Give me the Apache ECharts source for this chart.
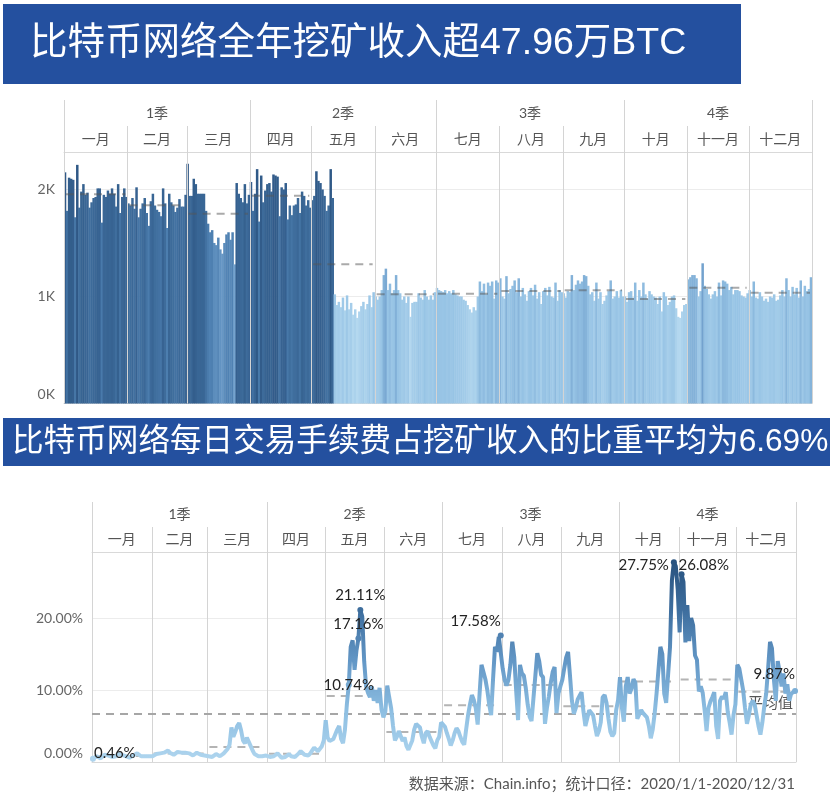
<!DOCTYPE html>
<html><head><meta charset="utf-8">
<script src="https://cdn.jsdelivr.net/npm/echarts@6/dist/echarts.min.js"></script>
<style>html,body{margin:0;padding:0;background:#fff}#c{width:832px;height:812px}</style>
</head><body><div id="c"></div>
<script>
// ---------------- data ----------------
const title1 = '比特币网络全年挖矿收入超47.96万BTC';
const title2 = '比特币网络每日交易手续费占挖矿收入的比重平均为6.69%';
const sourceText = '数据来源：Chain.info；统计口径：2020/1/1-2020/12/31';
const quarterNames = ['1季', '2季', '3季', '4季'];
const monthNames = ['一月', '二月', '三月', '四月', '五月', '六月', '七月', '八月', '九月', '十月', '十一月', '十二月'];
const monthDays = [31, 29, 31, 30, 31, 30, 31, 31, 30, 31, 30, 31];
const btcTickLabels = { 0: '0K', 1000: '1K', 2000: '2K' };
const feeTickLabels = { 0: '0.00%', 10: '10.00%', 20: '20.00%' };
const overallFeeAvg = 6.69;
const avgLabel = '平均值';

// daily mining revenue (BTC), one list per month
const btcJan = [2160, 1800, 2110, 2100, 2090, 1740, 2230, 1830, 1980, 2050, 1950, 1970, 1830, 1880, 1920, 1930, 2010, 2010, 1690, 1950, 1930, 1990, 1960, 2010, 1960, 1840, 2050, 1780, 1930, 2010, 1930];
const btcFeb = [1870, 1850, 1920, 1820, 2020, 1740, 1820, 1870, 1920, 1780, 1660, 1890, 1960, 1850, 1810, 1790, 1750, 2010, 1870, 1640, 1960, 1880, 1850, 1790, 1830, 1910, 1840, 1840, 1950];
const btcMar = [2240, 1940, 1940, 2100, 2050, 1960, 1960, 1960, 1960, 1800, 1680, 1600, 1620, 1500, 1480, 1550, 1440, 1400, 1500, 1580, 1600, 1530, 1600, 1300, 2060, 1960, 1920, 1880, 2050, 1870, 1950];
const btcApr = [2070, 1800, 1960, 2190, 1700, 2130, 1880, 1990, 2050, 2060, 1980, 2140, 2130, 2120, 1750, 2020, 2000, 2060, 1720, 1850, 1760, 1850, 1860, 1920, 1780, 1980, 1940, 1850, 1900, 1830];
const btcMay = [1900, 1940, 2170, 2080, 2060, 2000, 1940, 1800, 1850, 2190, 1920, 1020, 920, 950, 900, 990, 870, 1010, 880, 940, 830, 880, 800, 860, 910, 950, 880, 930, 1010, 900, 1040];
const btcJun = [1000, 970, 1000, 1060, 1200, 1260, 1060, 1120, 1030, 1060, 1200, 1060, 1030, 970, 1000, 940, 1000, 810, 940, 950, 950, 1030, 990, 970, 1060, 1000, 970, 1010, 970, 1040];
const btcJul = [1080, 1060, 1050, 1040, 1060, 1030, 1050, 1030, 1060, 1020, 1010, 1000, 1000, 970, 960, 920, 880, 850, 900, 870, 1000, 1140, 1050, 1120, 1020, 1130, 1100, 1140, 980, 1150, 1130];
const btcAug = [1170, 1000, 980, 1190, 1030, 1070, 1100, 1150, 1040, 1170, 1000, 1080, 1020, 960, 1050, 1080, 1010, 1110, 980, 1040, 930, 1050, 1080, 1010, 1090, 1000, 990, 1130, 960, 1060, 1040];
const btcSep = [1030, 990, 1050, 1040, 1200, 1060, 1110, 1150, 1120, 1140, 1200, 1190, 1100, 1020, 1040, 960, 1130, 980, 1040, 930, 960, 1010, 1050, 1150, 980, 1000, 1050, 990, 1060, 1000];
const btcOct = [1000, 950, 1040, 1050, 990, 1130, 960, 1060, 1000, 1130, 1020, 980, 1050, 1020, 1000, 990, 930, 1000, 860, 1040, 1000, 920, 950, 1000, 1010, 890, 810, 800, 860, 920, 930];
const btcNov = [1160, 1180, 1200, 1200, 1170, 1000, 1050, 1310, 1100, 1070, 1020, 980, 1020, 1050, 1000, 1130, 1010, 1150, 1140, 1120, 1060, 1090, 1020, 1060, 1060, 1050, 1010, 1000, 990, 1030];
const btcDec = [1060, 1000, 1140, 990, 980, 1040, 1000, 960, 980, 950, 1000, 990, 1020, 960, 970, 1010, 1060, 1000, 1170, 1060, 1000, 1090, 1020, 1080, 990, 1150, 1000, 1100, 1050, 1070, 1180];

// daily fee share of mining revenue (%), one list per month
const feeJan = [0.46, 0.6, 0.8, 0.6, 0.5, 0.7, 1.0, 1.1, 0.9, 0.8, 0.7, 0.6, 0.8, 1.1, 1.2, 1.0, 0.9, 0.8, 0.7, 0.6, 0.8, 0.9, 1.1, 1.2, 1.0, 0.8, 0.7, 0.8, 0.9, 0.8, 0.7];
const feeFeb = [0.8, 0.9, 1.1, 1.3, 1.2, 1.0, 1.3, 1.5, 1.6, 1.3, 1.1, 1.0, 1.2, 1.4, 1.5, 1.3, 1.1, 1.3, 1.5, 1.2, 1.0, 0.9, 1.1, 1.3, 1.2, 1.0, 0.8, 0.9, 1.0];
const feeMar = [0.8, 0.9, 0.7, 0.9, 1.1, 1.0, 0.8, 0.9, 1.2, 1.5, 1.8, 2.4, 4.8, 3.5, 4.2, 5.0, 5.4, 4.4, 3.0, 2.6, 3.4, 3.6, 2.2, 1.6, 1.1, 0.9, 0.8, 1.0, 0.8, 1.0, 0.9];
const feeApr = [0.9, 0.7, 0.6, 0.8, 1.0, 1.2, 0.9, 0.6, 0.5, 0.7, 0.9, 1.1, 0.8, 0.6, 0.7, 0.9, 1.2, 1.5, 1.3, 1.0, 0.8, 0.9, 1.2, 1.6, 2.0, 1.8, 1.5, 1.6, 2.2, 3.0];
const feeMay = [5.8, 3.4, 2.9, 3.0, 3.2, 3.1, 4.5, 5.0, 3.2, 2.6, 4.5, 8.0, 10.74, 16.0, 16.9, 12.8, 15.5, 17.16, 21.11, 20.2, 14.0, 10.5, 9.6, 9.0, 10.5, 8.5, 10.0, 8.2, 10.3, 7.3, 6.2];
const feeJun = [7.0, 10.6, 9.0, 7.5, 5.0, 3.0, 3.5, 4.3, 3.6, 2.9, 3.4, 2.2, 1.7, 1.5, 3.0, 4.5, 5.3, 5.4, 4.8, 3.5, 2.6, 4.0, 4.3, 3.5, 2.9, 2.3, 1.9, 3.0, 3.5, 5.5];
const feeJul = [5.5, 4.9, 4.0, 3.2, 2.3, 3.0, 4.0, 4.7, 4.3, 3.5, 2.8, 2.4, 4.5, 6.5, 8.0, 9.3, 8.6, 7.5, 5.2, 9.5, 13.5, 13.4, 11.5, 10.0, 8.0, 6.5, 11.5, 16.0, 15.3, 17.4, 17.58];
const feeAug = [13.0, 11.4, 10.6, 11.4, 13.5, 16.7, 14.6, 10.0, 5.8, 13.5, 12.3, 12.0, 10.3, 8.0, 6.3, 5.7, 5.6, 12.0, 15.1, 14.0, 12.1, 11.8, 5.3, 7.5, 9.1, 11.0, 12.5, 13.2, 6.8, 9.5, 10.5];
const feeSep = [11.4, 13.0, 14.5, 15.3, 12.0, 8.5, 6.7, 7.5, 8.7, 9.2, 9.7, 7.0, 5.0, 4.9, 7.2, 7.0, 6.5, 5.0, 3.6, 4.3, 5.5, 9.0, 9.3, 8.2, 6.0, 4.2, 3.6, 4.0, 7.2, 8.6];
const feeOct = [11.8, 7.5, 5.6, 10.5, 11.8, 9.5, 10.2, 11.5, 11.0, 6.0, 5.8, 7.2, 6.8, 7.0, 6.2, 5.0, 3.3, 4.5, 6.7, 9.5, 12.8, 16.0, 15.0, 9.5, 8.2, 8.0, 16.0, 25.3, 27.75, 27.2, 24.0];
const feeNov = [18.0, 26.08, 25.0, 16.6, 21.8, 16.8, 20.0, 19.0, 14.8, 14.2, 9.8, 10.5, 9.6, 7.2, 4.3, 7.5, 8.4, 9.0, 9.7, 5.0, 3.2, 8.5, 9.1, 8.8, 9.7, 7.0, 5.5, 3.8, 6.5, 8.0];
const feeDec = [13.5, 13.0, 11.5, 10.0, 7.5, 5.3, 6.5, 8.0, 8.5, 8.0, 6.5, 5.0, 3.8, 5.5, 7.7, 9.5, 13.0, 16.7, 15.8, 11.5, 8.5, 14.0, 12.5, 10.5, 12.3, 9.5, 10.8, 8.5, 9.5, 9.3, 9.87];

// annotated days on the fee line
const feeLabelDays = ['2020-01-01', '2020-05-13', '2020-05-18', '2020-05-19', '2020-07-31', '2020-10-29', '2020-11-02', '2020-12-31'];

// ---------------- build ----------------
const btcByMonth = [btcJan, btcFeb, btcMar, btcApr, btcMay, btcJun, btcJul, btcAug, btcSep, btcOct, btcNov, btcDec];
const feeByMonth = [feeJan, feeFeb, feeMar, feeApr, feeMay, feeJun, feeJul, feeAug, feeSep, feeOct, feeNov, feeDec];
const dates = [];
monthDays.forEach((n, m) => { for (let d = 1; d <= n; d++) dates.push('2020-' + String(m + 1).padStart(2, '0') + '-' + String(d).padStart(2, '0')); });
const btcDaily = btcByMonth.flat();
const feeDaily = feeByMonth.flat();
const monthStart = []; let acc = 0;
monthDays.forEach(n => { monthStart.push(acc); acc += n; });
const totalDays = acc;
const mean = a => a.reduce((s, v) => s + v, 0) / a.length;
const btcAvg = btcByMonth.map((a, i) => [monthStart[i], monthStart[i] + monthDays[i], mean(a)]);
const feeAvg = feeByMonth.map((a, i) => [monthStart[i], monthStart[i] + monthDays[i], mean(a)]);
const boundaries = monthStart.concat([totalDays]).map(b => [b, 0]);
const headerCells = [];
quarterNames.forEach((q, i) => headerCells.push({ s: monthStart[i * 3], e: i === 3 ? totalDays : monthStart[i * 3 + 3], row: 1, name: q }));
monthNames.forEach((m, i) => headerCells.push({ s: monthStart[i], e: monthStart[i] + monthDays[i], row: 0, name: m }));

const FONT = "Lato, 'Noto Sans CJK SC', sans-serif";
const TFONT = "'Liberation Sans', 'Noto Sans CJK SC', sans-serif";
const SEP = '#d4d4d4';
const crisp = x => Math.round(x) + 0.5;

const labelStyles = {
  '2020-01-01': { position: 'right', distance: 0, offset: [-2, -6] },
  '2020-05-13': { position: 'inside' },
  '2020-05-18': { position: 'top', distance: 4 },
  '2020-05-19': { position: 'top', distance: 4 },
  '2020-07-31': { position: 'top', align: 'right', distance: 4 },
  '2020-10-29': { position: 'left', distance: 2, offset: [0, 3] },
  '2020-11-02': { position: 'top', align: 'left', distance: 1, offset: [-3, 2] },
  '2020-12-31': { position: 'top', align: 'right', distance: 6 }
};
const feeData = feeDaily.map((v, i) => {
  const d = dates[i];
  if (feeLabelDays.indexOf(d) < 0) return v;
  const st = labelStyles[d] || {};
  return {
    value: v, symbolSize: 6,
    label: Object.assign({ show: true, formatter: p => p.value.toFixed(2) + '%', color: '#222', fontSize: 15, fontFamily: FONT }, st)
  };
});

function sepRender(params, api) {
  const x = crisp(api.coord([api.value(0), 0])[0]);
  const cs = params.coordSys;
  return { type: 'line', shape: { x1: x, y1: cs.y, x2: x, y2: cs.y + cs.height }, style: { stroke: SEP, lineWidth: 1 } };
}
function avgRenderFactory(color) {
  return function (params, api) {
    const p1 = api.coord([api.value(0), api.value(2)]);
    const p2 = api.coord([api.value(1), api.value(2)]);
    return { type: 'line', shape: { x1: p1[0] + 2, y1: p1[1], x2: p2[0] - 2, y2: p2[1] }, style: { stroke: color, lineWidth: 2, lineDash: [8, 6] } };
  };
}
function headerRender(params, api) {
  const c = headerCells[params.dataIndex];
  const cs = params.coordSys;
  const xs = api.coord([c.s, 0])[0], xe = api.coord([c.e, 0])[0];
  const yTop = api.coord([0, c.row + 1])[1], yBot = api.coord([0, c.row])[1];
  const children = [{
    type: 'text',
    style: { text: c.name, x: (xs + xe) / 2, y: (yTop + yBot) / 2, align: 'center', verticalAlign: 'middle', fill: '#555', fontSize: 14, fontFamily: FONT }
  }];
  const top = c.row === 1 ? cs.y : yTop;
  children.push({ type: 'line', shape: { x1: crisp(xs), y1: top, x2: crisp(xs), y2: cs.y + cs.height }, style: { stroke: SEP, lineWidth: 1 } });
  if (c.row === 1 && c.e === totalDays) {
    children.push({ type: 'line', shape: { x1: crisp(xe), y1: top, x2: crisp(xe), y2: cs.y + cs.height }, style: { stroke: SEP, lineWidth: 1 } });
  }
  return { type: 'group', children };
}
const headerData = headerCells.map(c => [c.s, c.e, c.row]);

const hiddenValueX = (gi) => ({ type: 'value', gridIndex: gi, min: 0, max: totalDays, show: false });

const option = {
  animation: false,
  backgroundColor: '#fff',
  grid: [
    { left: 64, top: 152, width: 748, height: 251.5 },
    { left: 64, top: 100, width: 748, height: 52 },
    { left: 92, top: 552, width: 704, height: 210 },
    { left: 92, top: 502, width: 704, height: 50 }
  ],
  xAxis: [
    { type: 'category', gridIndex: 0, data: dates, axisLabel: { show: false }, axisTick: { show: false }, axisLine: { lineStyle: { color: '#d9d9d9' } } },
    hiddenValueX(0),
    { type: 'value', gridIndex: 1, min: 0, max: totalDays, axisLabel: { show: false }, axisTick: { show: false }, splitLine: { show: false }, axisLine: { show: true, lineStyle: { color: '#d9d9d9' } } },
    { type: 'category', gridIndex: 2, data: dates, axisLabel: { show: false }, axisTick: { show: false }, axisLine: { lineStyle: { color: '#d9d9d9' } } },
    hiddenValueX(2),
    { type: 'value', gridIndex: 3, min: 0, max: totalDays, axisLabel: { show: false }, axisTick: { show: false }, splitLine: { show: false }, axisLine: { show: true, lineStyle: { color: '#d9d9d9' } } }
  ],
  yAxis: [
    {
      type: 'value', gridIndex: 0, min: 0, max: 2350, interval: 1000,
      axisLine: { show: false }, axisTick: { show: false },
      splitLine: { lineStyle: { color: '#ececec' } },
      axisLabel: {
        showMaxLabel: false, margin: 9, color: '#666', fontSize: 14, fontFamily: FONT,
        formatter: v => btcTickLabels[v] === undefined ? '' : (v === 0 ? '{z|' + btcTickLabels[v] + '}' : btcTickLabels[v]),
        rich: { z: { padding: [0, 0, 18, 0], color: '#666', fontSize: 14, fontFamily: FONT } }
      }
    },
    { type: 'value', gridIndex: 1, min: 0, max: 2, show: false },
    {
      type: 'value', gridIndex: 2, min: 0, max: 29.17, interval: 10,
      axisLine: { show: false }, axisTick: { show: false },
      splitLine: { lineStyle: { color: '#ececec' } },
      axisLabel: {
        showMaxLabel: false, margin: 9, color: '#666', fontSize: 14, fontFamily: FONT,
        formatter: v => feeTickLabels[v] === undefined ? '' : (v === 0 ? '{z|' + feeTickLabels[v] + '}' : feeTickLabels[v]),
        rich: { z: { padding: [0, 0, 18, 0], color: '#666', fontSize: 14, fontFamily: FONT } }
      }
    },
    { type: 'value', gridIndex: 3, min: 0, max: 2, show: false }
  ],
  visualMap: [
    { type: 'continuous', show: false, seriesIndex: 0, min: 800, max: 2200, inRange: { color: ['#b4d8ef', '#95c2e4', '#6b9bc9', '#4c7eaf', '#3b6897', '#2f5886'] } },
    { type: 'continuous', show: false, seriesIndex: 4, min: 0, max: 28, inRange: { color: ['#b0d6ef', '#8ebfe2', '#6397c6', '#3e6e9e', '#28527e'] } }
  ],
  series: [
    { type: 'bar', xAxisIndex: 0, yAxisIndex: 0, data: btcDaily, barWidth: 2.5, z: 2 },
    { type: 'custom', xAxisIndex: 1, yAxisIndex: 0, data: boundaries, encode: { x: 0, y: 1 }, renderItem: sepRender, z: 3, silent: true },
    { type: 'custom', xAxisIndex: 1, yAxisIndex: 0, data: btcAvg, encode: { x: [0, 1], y: 2 }, renderItem: avgRenderFactory('rgba(85,85,85,0.5)'), z: 4, silent: true },
    { type: 'custom', xAxisIndex: 2, yAxisIndex: 1, data: headerData, encode: { x: [0, 1], y: 2 }, renderItem: headerRender, silent: true },
    {
      type: 'line', xAxisIndex: 3, yAxisIndex: 2, data: feeData, z: 6,
      symbol: 'circle', symbolSize: 0, showSymbol: true, showAllSymbol: true,
      lineStyle: { width: 4 },
      markLine: {
        silent: true, symbol: 'none', z: 4,
        data: [{ yAxis: overallFeeAvg }],
        lineStyle: { color: '#a6a6a6', type: [8, 6], width: 2 },
        label: { position: 'insideEndTop', formatter: avgLabel, color: '#555', fontSize: 15, fontFamily: FONT, distance: 3 }
      }
    },
    { type: 'custom', xAxisIndex: 4, yAxisIndex: 2, data: boundaries, encode: { x: 0, y: 1 }, renderItem: sepRender, z: 1, silent: true },
    { type: 'custom', xAxisIndex: 4, yAxisIndex: 2, data: feeAvg, encode: { x: [0, 1], y: 2 }, renderItem: avgRenderFactory('rgba(130,130,130,0.6)'), z: 4, silent: true },
    { type: 'custom', xAxisIndex: 5, yAxisIndex: 3, data: headerData, encode: { x: [0, 1], y: 2 }, renderItem: headerRender, silent: true }
  ],
  graphic: [
    { type: 'rect', left: 3, top: 4, shape: { width: 738, height: 80 }, style: { fill: '#24509f' }, silent: true },
    { type: 'text', left: 30, top: 25, style: { text: title1, fill: '#fff', fontSize: 37.5, fontFamily: TFONT }, silent: true },
    { type: 'rect', left: 3, top: 418, shape: { width: 827, height: 48 }, style: { fill: '#24509f' }, silent: true },
    { type: 'text', left: 12, top: 426, style: { text: title2, fill: '#fff', fontSize: 31.6, fontFamily: TFONT }, silent: true },
    { type: 'text', right: 37, top: 777, style: { text: sourceText, fill: '#555', fontSize: 15, fontFamily: FONT }, silent: true }
  ]
};
const chart = echarts.init(document.getElementById('c'), null, { renderer: 'canvas' });
chart.setOption(option);
</script>
</body></html>
